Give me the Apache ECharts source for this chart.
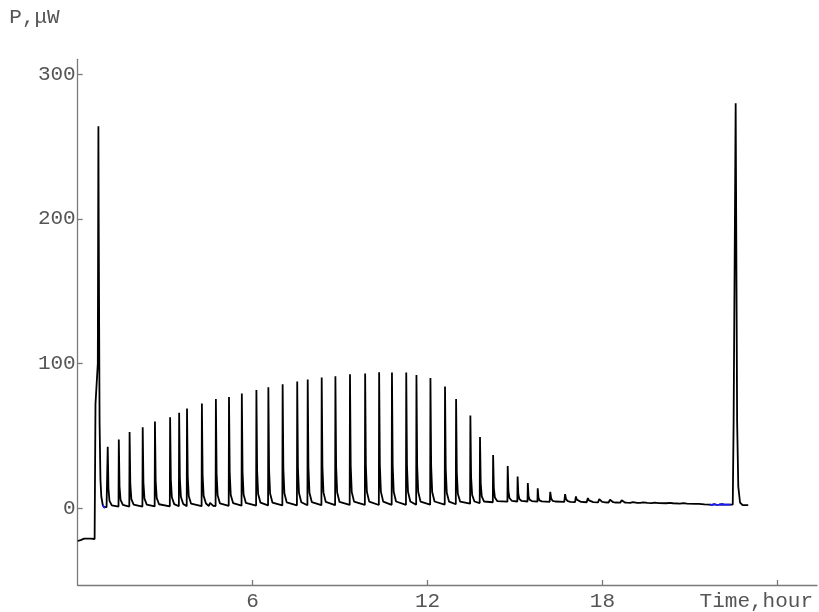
<!DOCTYPE html>
<html><head><meta charset="utf-8">
<script src="https://cdn.jsdelivr.net/npm/echarts@6/dist/echarts.min.js"></script>
<style>html,body{margin:0;padding:0;background:#fff}#c{width:819px;height:612px}</style>
</head><body><div id="c"></div>
<script>
// ---- data ----
const yTickValues = [0, 100, 200, 300];
const xTickValues = [6, 12, 18, 24];
const xTickLabels = [6, 12, 18];
const xAxisName = 'Time,hour';
const yAxisName = 'P,\u03bcW';

// main (black) trace: [time in hours, power in µW]
const blackTrace = [
 [0,-22.6],[0.10,-22.0],[0.22,-21.0],[0.28,-20.0],[0.33,-21.0],[0.45,-21.0],[0.58,-21.2],[0.60,-20.5],
 [0.61,72],[0.69,100],[0.71,264],[0.72,200],[0.75,60],[0.78,20],[0.81,8],[0.86,2.3],[0.90,0.8],[0.94,0.3],[0.99,0.8],
 [1.02,1.0],[1.03,42.5],[1.055,13.5],[1.09,5.2],[1.17,2.0],
 [1.40,1.2],[1.41,47.5],[1.435,15.1],[1.47,5.8],[1.55,2.4],
 [1.77,1.2],[1.78,52.7],[1.805,16.7],[1.84,6.4],[1.92,2.5],
 [2.22,1.2],[2.23,56],[2.255,17.6],[2.29,6.7],[2.37,2.6],
 [2.64,1.3],[2.65,60],[2.675,18.9],[2.71,7.2],[2.79,2.8],
 [3.16,1.4],[3.17,63],[3.195,19.9],[3.23,7.6],[3.31,2.9],
 [3.47,1.4],[3.48,66],[3.505,20.8],[3.54,7.9],[3.62,3.0],
 [3.74,1.5],[3.75,69],[3.775,21.8],[3.81,8.3],[3.89,3.2],
 [4.25,1.5],[4.26,72.5],[4.285,22.8],[4.32,8.6],[4.40,3.3],
 [4.50,1.6],[4.54,3.8],[4.57,2.8],[4.60,3.5],[4.65,1.7],
 [4.73,1.6],[4.74,75.5],[4.765,23.8],[4.80,9.0],[4.88,3.4],
 [5.18,1.7],[5.19,77],[5.215,24.3],[5.25,9.2],[5.33,3.6],
 [5.62,1.8],[5.63,79.3],[5.655,25.1],[5.69,9.6],[5.77,3.7],
 [6.12,1.9],[6.13,81.8],[6.155,25.9],[6.19,9.9],[6.27,3.9],
 [6.53,2.0],[6.54,83.6],[6.565,26.5],[6.60,10.2],[6.68,4.0],
 [7.02,2.0],[7.03,85.8],[7.055,27.1],[7.09,10.4],[7.17,4.1],
 [7.52,2.1],[7.53,87.7],[7.555,27.8],[7.59,10.7],[7.67,4.2],
 [7.88,2.1],[7.89,89],[7.915,28.2],[7.95,10.8],[8.03,4.3],
 [8.36,2.2],[8.37,90.4],[8.395,28.7],[8.43,11.0],[8.51,4.4],
 [8.83,2.2],[8.84,91.3],[8.865,28.9],[8.90,11.1],[8.98,4.4],
 [9.33,2.3],[9.34,92.7],[9.365,29.4],[9.40,11.3],[9.48,4.6],
 [9.85,2.3],[9.86,93.2],[9.885,29.6],[9.92,11.4],[10.00,4.6],
 [10.33,2.3],[10.34,94],[10.365,29.8],[10.40,11.5],[10.48,4.6],
 [10.77,2.4],[10.78,93.8],[10.805,29.8],[10.84,11.5],[10.92,4.7],
 [11.26,2.4],[11.27,93.8],[11.295,29.8],[11.33,11.5],[11.41,4.7],
 [11.61,2.4],[11.62,92.2],[11.645,29.3],[11.68,11.4],[11.76,4.6],
 [12.09,2.5],[12.10,90],[12.125,28.8],[12.16,11.3],[12.24,4.7],
 [12.59,2.6],[12.60,84.2],[12.625,27.1],[12.66,10.8],[12.74,4.6],
 [12.97,2.8],[12.98,75.6],[13.005,24.6],[13.04,10.1],[13.12,4.6],
 [13.46,3.2],[13.47,64.2],[13.495,21.5],[13.53,9.3],[13.61,4.7],
 [13.79,3.6],[13.80,49.3],[13.825,17.3],[13.86,8.2],[13.94,4.7],
 [14.24,4.2],[14.25,36.8],[14.275,14.0],[14.31,7.5],[14.39,5.0],
 [14.74,4.6],[14.75,29.2],[14.775,12.0],[14.81,7.1],[14.89,5.2],
 [15.08,4.7],[15.09,21.9],[15.115,9.9],[15.15,6.4],[15.23,5.1],
 [15.43,4.7],[15.44,17.4],[15.465,8.5],[15.50,6.0],[15.58,5.0],
 [15.77,4.6],[15.78,13.9],[15.805,7.4],[15.84,5.5],[15.92,4.8],
 [16.19,4.5],[16.21,11.4],[16.24,6.8],[16.29,5.2],[16.38,4.7],
 [16.69,4.4],[16.72,9.8],[16.75,6.4],[16.81,5.0],[16.90,4.5],
 [17.06,4.3],[17.09,8.2],[17.12,6.0],[17.18,4.8],[17.27,4.4],
 [17.46,4.2],[17.50,7.1],[17.54,5.5],[17.60,4.6],[17.68,4.3],
 [17.85,4.1],[17.89,6.4],[17.93,5.1],[17.99,4.4],[18.07,4.2],
 [18.21,4.0],[18.26,5.9],[18.31,4.8],[18.37,4.2],[18.45,4.0],
 [18.61,3.9],[18.66,5.5],[18.71,4.5],[18.77,4.0],[18.85,3.9],
 [18.95,3.8],[19.00,5.1],[19.05,4.3],[19.11,3.9],[19.19,3.8],
 [19.30,3.7],[19.35,4.8],[19.40,4.1],[19.46,3.8],[19.54,3.7],
 [19.69,3.6],[19.74,4.6],[19.79,3.9],[19.85,3.7],[19.93,3.6],
 [20.19,3.5],[20.25,4.5],[20.31,3.8],[20.42,3.5],
 [20.66,3.3],[20.72,4.4],[20.78,3.6],[20.90,3.3],
 [21.19,3.0],[21.25,3.9],[21.31,3.0],[21.50,2.7],
 [21.68,2.6],[21.75,2.4],[21.85,2.8],[21.92,2.4],[22.00,2.5],[22.10,2.8],[22.18,2.5],[22.30,2.5],[22.40,2.6],
 [22.47,2.6],[22.50,60],[22.57,280],[22.62,60],[22.66,15],[22.72,4],[22.80,2.3],[23.00,2.2]
];

// secondary (blue) trace, visible only in two short stretches
const blueTraceA = [[0.86,2.3],[0.90,0.8],[0.94,0.3]];
const blueTraceB = [[21.68,2.6],[21.75,2.4],[21.85,2.8],[21.92,2.4],[22.00,2.5],[22.10,2.8],[22.18,2.5],[22.30,2.5],[22.40,2.6]];

// ---- chart ----
const FONT = 'Liberation Mono';
const TXT = '#555555';
const AX = '#7a7a7a';
const chart = echarts.init(document.getElementById('c'), null, {renderer: 'canvas'});
chart.setOption({
  animation: false,
  backgroundColor: '#ffffff',
  grid: {left: 77.7, right: 2, top: 59.3, bottom: 22},
  xAxis: {
    type: 'value', min: 0, max: 25.36,
    position: 'bottom',
    axisLine: {onZero: false, lineStyle: {color: AX, width: 1.3}},
    axisTick: {inside: true, length: 5, lineStyle: {color: AX, width: 1.3}, customValues: xTickValues},
    axisLabel: {customValues: xTickLabels, color: TXT, fontFamily: FONT, fontSize: 21, margin: 6},
    splitLine: {show: false},
    name: xAxisName, nameLocation: 'end', nameGap: -4,
    nameTextStyle: {color: TXT, fontFamily: FONT, fontSize: 21, align: 'right', verticalAlign: 'top', padding: [6, 0, 0, 0]}
  },
  yAxis: {
    type: 'value', min: -53, max: 310.3,
    axisLine: {onZero: false, lineStyle: {color: AX, width: 1.3}},
    axisTick: {inside: true, length: 5, lineStyle: {color: AX, width: 1.3}, customValues: yTickValues},
    axisLabel: {customValues: yTickValues, color: TXT, fontFamily: FONT, fontSize: 21, margin: 2},
    splitLine: {show: false},
    name: yAxisName, nameLocation: 'end', nameGap: 42,
    nameTextStyle: {color: TXT, fontFamily: FONT, fontSize: 21, align: 'right', verticalAlign: 'middle', padding: [0, 18, 0, 0]}
  },
  series: [
    {type: 'line', data: blackTrace, showSymbol: false, symbol: 'none', z: 2,
     lineStyle: {color: '#000000', width: 1.8}},
    {type: 'line', data: blueTraceA, showSymbol: false, symbol: 'none', z: 3,
     lineStyle: {color: '#1a1aff', width: 1.8}},
    {type: 'line', data: blueTraceB, showSymbol: false, symbol: 'none', z: 3,
     lineStyle: {color: '#1a1aff', width: 1.8}}
  ]
});
</script></body></html>
